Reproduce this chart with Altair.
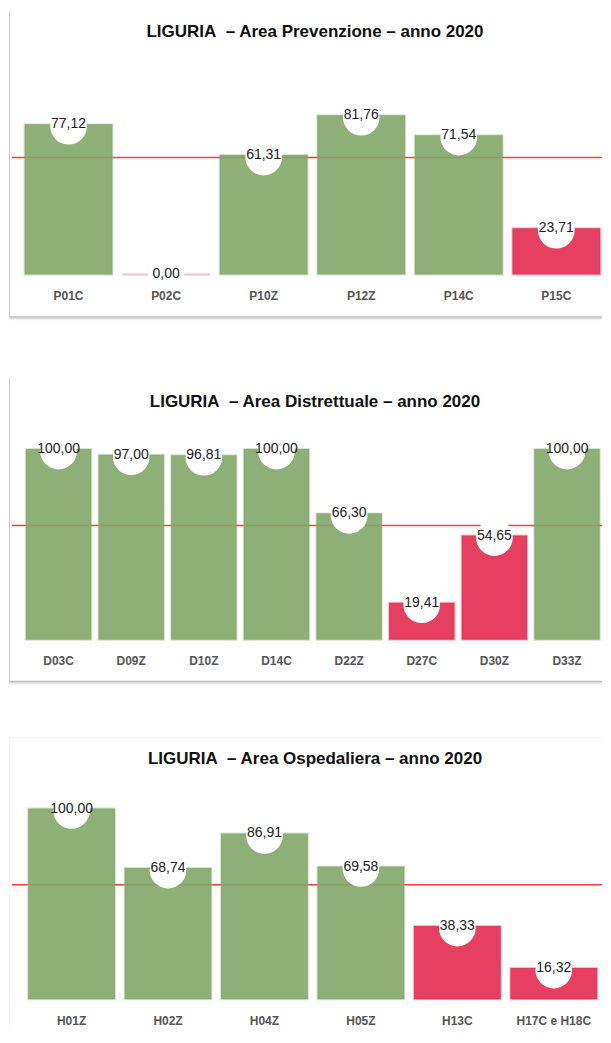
import altair as alt
import pandas as pd

REGION = "LIGURIA"
YEAR = 2020
THRESHOLD = 60

prev_codes = ["P01C", "P02C", "P10Z", "P12Z", "P14C", "P15C"]
prev_values = [77.12, 0.00, 61.31, 81.76, 71.54, 23.71]

dist_codes = ["D03C", "D09Z", "D10Z", "D14C", "D22Z", "D27C", "D30Z", "D33Z"]
dist_values = [100.00, 97.00, 96.81, 100.00, 66.30, 19.41, 54.65, 100.00]

osp_codes = ["H01Z", "H02Z", "H04Z", "H05Z", "H13C", "H17C e H18C"]
osp_values = [100.00, 68.74, 86.91, 69.58, 38.33, 16.32]

GREEN = "#82A669"
RED = "#E32A50"
LINE = "#FF3D3D"
FONT = "Liberation Sans"
W = 591
CARD_LEFT = -2


def card_layers(height, top, bottom, shadow):
    one = pd.DataFrame({"k": [0]})
    layers = []
    if shadow:
        for off, op in [(4, 0.06), (2.5, 0.09), (1.2, 0.12)]:
            layers.append(
                alt.Chart(one).mark_rect(fill="#000000", opacity=op).encode(
                    x=alt.value(CARD_LEFT - 0.8), x2=alt.value(W),
                    y=alt.value(top + 2), y2=alt.value(height + bottom + off),
                )
            )
    else:
        layers.append(
            alt.Chart(one).mark_rect(fill="#000000", opacity=0.05).encode(
                x=alt.value(CARD_LEFT - 0.8), x2=alt.value(W),
                y=alt.value(top - 0.8), y2=alt.value(height + bottom),
            )
        )
    layers.append(
        alt.Chart(one).mark_rect(fill="#FFFFFF").encode(
            x=alt.value(CARD_LEFT), x2=alt.value(W),
            y=alt.value(top), y2=alt.value(height + bottom),
        )
    )
    return layers


def panel(area, codes, values, height, pad_outer, align, card, title_offset):
    df = pd.DataFrame({"code": codes, "value": values})
    base = alt.Chart(df).transform_calculate(
        label="replace(format(datum.value, '.2f'), '.', ',')"
    )
    x = alt.X(
        "code:N",
        sort=None,
        title=None,
        scale=alt.Scale(paddingInner=0.1, paddingOuter=pad_outer, align=align),
        axis=alt.Axis(
            ticks=False, domain=False, labelAngle=0, labelPadding=16, zindex=1,
            labelFont=FONT, labelFontSize=12, labelFontWeight="bold",
            labelColor="#555555",
        ),
    )
    y = alt.Y("value:Q", scale=alt.Scale(domain=[0, 100]), axis=None)
    ok = alt.datum.value >= THRESHOLD

    rule = alt.Chart(pd.DataFrame({"value": [THRESHOLD]})).mark_rule(
        color=LINE, strokeWidth=1.5
    ).encode(y=y)
    bars = base.mark_bar(fillOpacity=0.9, strokeOpacity=0.3, strokeWidth=2).encode(
        x=x, y=y,
        fill=alt.condition(ok, alt.value(GREEN), alt.value(RED)),
        stroke=alt.condition(ok, alt.value(GREEN), alt.value(RED)),
    )
    dots = base.mark_circle(size=1350, color="white", opacity=1, yOffset=2).encode(x=x, y=y)
    text = base.mark_text(font=FONT, fontSize=14, color="#222222",
                          baseline="middle").encode(x=x, y=y, text="label:N")
    layers = card_layers(height, *card) + [rule, bars, dots, text]
    return alt.layer(*layers).properties(
        width=W, height=height,
        title=alt.TitleParams(
            f"{REGION}\u00a0 \u2013 Area {area} \u2013 anno {YEAR}",
            font=FONT, fontSize=17, fontWeight="bold", color="#111111",
            anchor="middle", dx=8, offset=title_offset, frame="group",
        ),
    )


p1 = panel("Prevenzione", prev_codes, prev_values, 195, 0.074, 0.876, (-69, 42, True), -30.5)
p2 = panel("Distrettuale", dist_codes, dist_values, 191, 0.111, 0.86, (-73, 41, True), -34.5)
p3 = panel("Ospedaliera", osp_codes, osp_values, 191, 0.109, 0.77, (-71, 28, False), -31.7)

chart = alt.vconcat(
    alt.vconcat(p1, p2, spacing=56), p3, spacing=52
).configure(
    padding={"left": 1, "top": 2, "right": 0, "bottom": 0},
).configure_view(stroke=None)

chart.save("out.html", embed_options={"renderer": "svg", "actions": False})
